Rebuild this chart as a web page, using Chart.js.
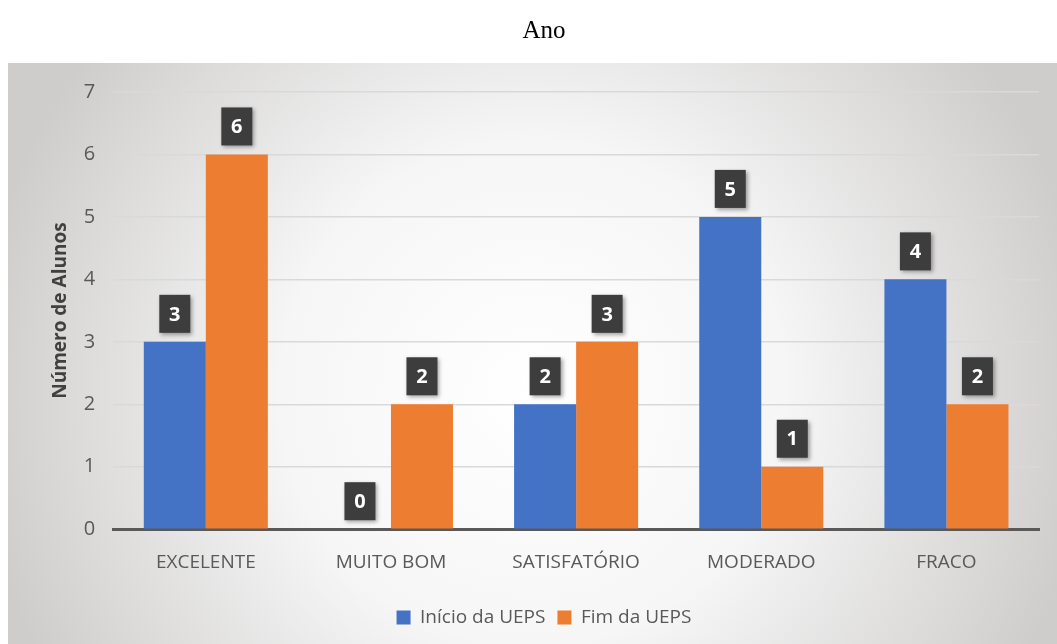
<!DOCTYPE html>
<html><head><meta charset="utf-8">
<script src="https://cdn.jsdelivr.net/npm/chart.js@4.4.1/dist/chart.umd.min.js"></script>
<style>html,body{margin:0;padding:0;background:#fff}#wrap{width:1057px;height:644px}</style>
</head><body><div id="wrap"><canvas id="c" width="1057" height="644"></canvas></div>
<script>
const categories = ["EXCELENTE","MUITO BOM","SATISFATÓRIO","MODERADO","FRACO"];
const inicio = [3,0,2,5,4];
const fim = [6,2,3,1,2];
const seriesNames = ["Início da UEPS","Fim da UEPS"];
const titleText = "Ano";
const yTitle = "Número de Alunos";

const bgPlugin = {
  id:'bg',
  beforeDraw(chart){
    const ctx = chart.ctx;
    ctx.save();
    ctx.fillStyle = '#ffffff';
    ctx.fillRect(0,0,chart.width,chart.height);
    const x0=8,y0=63,x1=chart.width,y1=chart.height;
    const cx=(x0+x1)/2, cy=(y0+y1)/2+40;
    const g = ctx.createRadialGradient(cx,cy,0,cx,cy,560);
    g.addColorStop(0,'#ffffff');
    g.addColorStop(0.45,'#f6f6f6');
    g.addColorStop(1,'#cfcdcc');
    ctx.fillStyle=g;
    ctx.fillRect(x0,y0,x1-x0,y1-y0);
    ctx.restore();
  }
};
const labelPlugin = {
  id:'lbl',
  afterDatasetsDraw(chart){
    const ctx = chart.ctx;
    ctx.save();
    chart.data.datasets.forEach((ds,di)=>{
      const meta = chart.getDatasetMeta(di);
      meta.data.forEach((bar,i)=>{
        const v = ds.data[i];
        const w=31,h=38;
        const x = bar.x - w/2, y = bar.y - 9 - h;
        ctx.shadowColor='rgba(0,0,0,0.35)';
        ctx.shadowBlur=4; ctx.shadowOffsetX=2; ctx.shadowOffsetY=2;
        ctx.fillStyle='#3d3d3d';
        ctx.fillRect(x,y,w,h);
        ctx.shadowColor='transparent';
        ctx.fillStyle='#ffffff';
        ctx.font='bold 20px "Open Sans"';
        ctx.textAlign='center'; ctx.textBaseline='middle';
        ctx.fillText(String(v), bar.x, y+h/2+1);
      });
    });
    ctx.restore();
  }
};

new Chart(document.getElementById('c'),{
  type:'bar',
  data:{labels:categories,datasets:[
    {label:seriesNames[0],data:inicio,backgroundColor:'#4472c4',barPercentage:1,categoryPercentage:0.67},
    {label:seriesNames[1],data:fim,backgroundColor:'#ed7d31',barPercentage:1,categoryPercentage:0.67}
  ]},
  options:{
    responsive:false,animation:false,
    layout:{padding:{left:49,right:18,top:0,bottom:7}},
    plugins:{
      title:{display:true,text:titleText,color:'#000',font:{family:'"Liberation Serif"',size:25,weight:'normal'},padding:{top:16,bottom:46}},
      legend:{position:'bottom',labels:{boxWidth:14,boxHeight:14,color:'#595959',font:{family:'"Open Sans"',size:19},padding:12}},
      tooltip:{enabled:false}
    },
    scales:{
      x:{grid:{display:false,drawTicks:false},border:{display:true,color:'#595959',width:3},
         ticks:{color:'#595959',font:{family:'"Open Sans"',size:19},padding:22}},
      y:{min:0,max:7,ticks:{stepSize:1,color:'#595959',font:{family:'"Open Sans"',size:20},padding:18},
         grid:{color:'#d9d9d9',lineWidth:1.5,drawTicks:false},border:{display:false},
         title:{display:true,text:yTitle,color:'#404040',font:{family:'"Open Sans"',size:19,weight:'bold'},padding:{top:0,bottom:-6}}}
    }
  },
  plugins:[bgPlugin,labelPlugin]
});
</script></body></html>
